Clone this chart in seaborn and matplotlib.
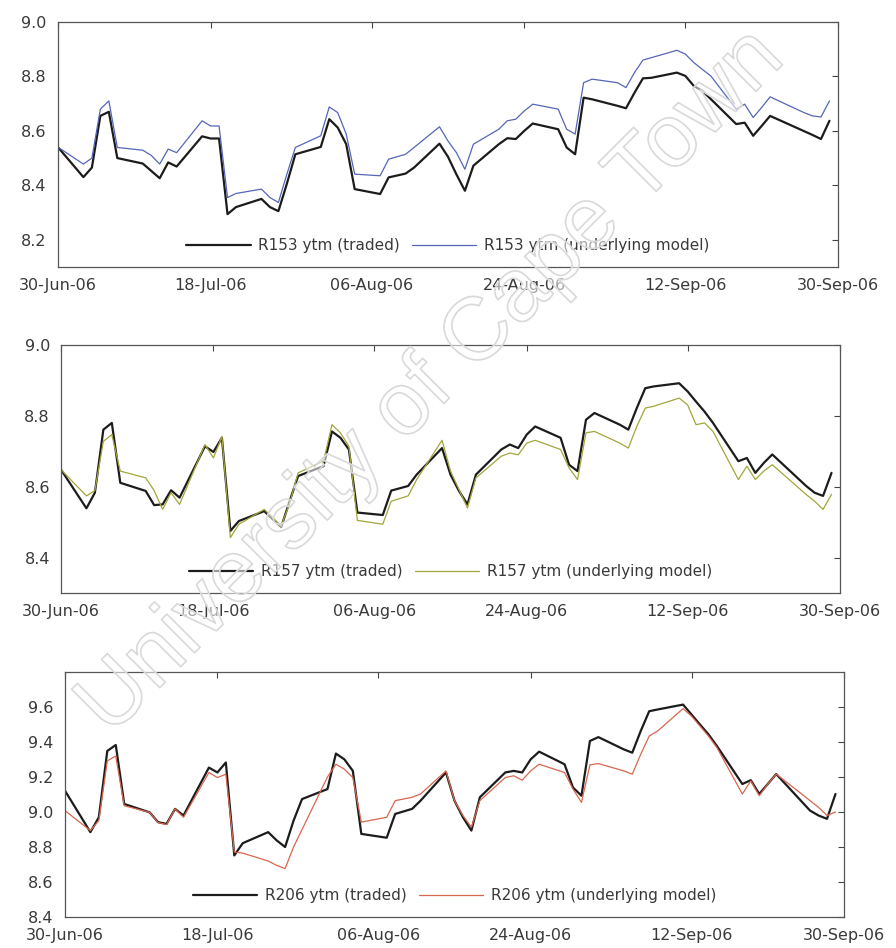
import matplotlib
matplotlib.use("Agg")
import matplotlib.pyplot as plt
import matplotlib.dates as mdates
from matplotlib import patheffects
import pandas as pd
import seaborn as sns

# Trading days (SA holidays 9 Aug and 25 Sep excluded)
trade_dates = [
    "2006-06-30",
    "2006-07-03", "2006-07-04", "2006-07-05", "2006-07-06", "2006-07-07",
    "2006-07-10", "2006-07-11", "2006-07-12", "2006-07-13", "2006-07-14",
    "2006-07-17", "2006-07-18", "2006-07-19", "2006-07-20", "2006-07-21",
    "2006-07-24", "2006-07-25", "2006-07-26", "2006-07-27", "2006-07-28",
    "2006-07-31", "2006-08-01", "2006-08-02", "2006-08-03", "2006-08-04",
    "2006-08-07", "2006-08-08", "2006-08-10", "2006-08-11",
    "2006-08-14", "2006-08-15", "2006-08-16", "2006-08-17", "2006-08-18",
    "2006-08-21", "2006-08-22", "2006-08-23", "2006-08-24", "2006-08-25",
    "2006-08-28", "2006-08-29", "2006-08-30", "2006-08-31", "2006-09-01",
    "2006-09-04", "2006-09-05", "2006-09-06", "2006-09-07", "2006-09-08",
    "2006-09-11", "2006-09-12", "2006-09-13", "2006-09-14", "2006-09-15",
    "2006-09-18", "2006-09-19", "2006-09-20", "2006-09-21", "2006-09-22",
    "2006-09-26", "2006-09-27", "2006-09-28", "2006-09-29",
]

r153_traded = [
    8.540, 8.430, 8.465, 8.655, 8.670, 8.500, 8.480, 8.453, 8.426, 8.484,
    8.469, 8.580, 8.572, 8.572, 8.294, 8.320, 8.350, 8.320, 8.305, 8.406,
    8.514, 8.541, 8.643, 8.612, 8.551, 8.386, 8.368, 8.429, 8.443, 8.465,
    8.553, 8.505, 8.440, 8.380, 8.472, 8.551, 8.573, 8.570, 8.600, 8.627,
    8.606, 8.539, 8.514, 8.722, 8.716, 8.692, 8.683, 8.740, 8.793, 8.795,
    8.814, 8.802, 8.765, 8.747, 8.717, 8.625, 8.630, 8.582, 8.618, 8.655,
    8.599, 8.585, 8.570, 8.637,
]
r153_model = [
    8.540, 8.478, 8.500, 8.680, 8.710, 8.539, 8.529, 8.510, 8.478, 8.533,
    8.520, 8.637, 8.618, 8.618, 8.355, 8.370, 8.386, 8.355, 8.337, 8.441,
    8.539, 8.582, 8.688, 8.667, 8.588, 8.441, 8.435, 8.496, 8.514, 8.539,
    8.615, 8.563, 8.520, 8.459, 8.551, 8.606, 8.637, 8.643, 8.673, 8.698,
    8.680, 8.606, 8.588, 8.777, 8.790, 8.777, 8.759, 8.814, 8.860, 8.869,
    8.896, 8.882, 8.851, 8.826, 8.802, 8.680, 8.698, 8.649, 8.686, 8.725,
    8.667, 8.655, 8.651, 8.710,
]

r157_traded = [
    8.648, 8.539, 8.583, 8.761, 8.780, 8.611, 8.588, 8.548, 8.550, 8.590,
    8.569, 8.714, 8.698, 8.738, 8.475, 8.503, 8.531, 8.508, 8.486, 8.559,
    8.630, 8.658, 8.756, 8.738, 8.705, 8.527, 8.520, 8.589, 8.602, 8.634,
    8.709, 8.634, 8.588, 8.550, 8.634, 8.705, 8.719, 8.709, 8.747, 8.770,
    8.738, 8.662, 8.644, 8.789, 8.808, 8.775, 8.761, 8.822, 8.878, 8.883,
    8.892, 8.869, 8.840, 8.812, 8.780, 8.672, 8.681, 8.639, 8.667, 8.691,
    8.602, 8.583, 8.574, 8.639,
]
r157_model = [
    8.648, 8.574, 8.589, 8.728, 8.747, 8.644, 8.625, 8.589, 8.536, 8.583,
    8.550, 8.719, 8.681, 8.742, 8.456, 8.494, 8.536, 8.513, 8.489, 8.553,
    8.639, 8.672, 8.775, 8.752, 8.714, 8.505, 8.494, 8.559, 8.574, 8.620,
    8.731, 8.644, 8.592, 8.540, 8.625, 8.686, 8.695, 8.690, 8.723, 8.731,
    8.705, 8.653, 8.620, 8.752, 8.756, 8.723, 8.709, 8.770, 8.822, 8.827,
    8.850, 8.831, 8.775, 8.780, 8.756, 8.620, 8.658, 8.620, 8.644, 8.662,
    8.578, 8.559, 8.536, 8.578,
]

r206_traded = [
    9.122, 8.885, 8.970, 9.349, 9.383, 9.046, 8.998, 8.942, 8.932, 9.018,
    8.980, 9.254, 9.226, 9.283, 8.752, 8.822, 8.885, 8.838, 8.800, 8.951,
    9.074, 9.131, 9.334, 9.301, 9.235, 8.875, 8.853, 8.989, 9.018, 9.065,
    9.226, 9.065, 8.970, 8.894, 9.084, 9.226, 9.235, 9.226, 9.301, 9.345,
    9.273, 9.140, 9.093, 9.406, 9.428, 9.358, 9.339, 9.463, 9.576, 9.586,
    9.614, 9.557, 9.500, 9.444, 9.377, 9.160, 9.182, 9.103, 9.160, 9.217,
    9.008, 8.980, 8.961, 9.103,
]
r206_model = [
    9.008, 8.894, 8.951, 9.292, 9.320, 9.036, 8.998, 8.940, 8.928, 9.018,
    8.970, 9.226, 9.197, 9.216, 8.771, 8.765, 8.720, 8.695, 8.677, 8.800,
    8.900, 9.200, 9.273, 9.245, 9.197, 8.942, 8.970, 9.065, 9.084, 9.103,
    9.235, 9.065, 8.980, 8.913, 9.065, 9.197, 9.207, 9.182, 9.235, 9.273,
    9.226, 9.131, 9.055, 9.269, 9.277, 9.235, 9.216, 9.330, 9.434, 9.463,
    9.591, 9.548, 9.491, 9.434, 9.368, 9.103, 9.178, 9.093, 9.160, 9.217,
    9.065, 9.027, 8.980, 9.000,
]

bonds = ["R153", "R157", "R206"]
x_tick_dates = ["2006-06-30", "2006-07-18", "2006-08-06",
                "2006-08-24", "2006-09-12", "2006-09-30"]
y_ticks = [
    [8.2, 8.4, 8.6, 8.8, 9.0],
    [8.4, 8.6, 8.8, 9.0],
    [8.4, 8.6, 8.8, 9.0, 9.2, 9.4, 9.6],
]

sns.set_style("white")
plt.rcParams["font.family"] = ["DejaVu Sans"]

dates = pd.to_datetime(trade_dates)
traded = [r153_traded, r157_traded, r206_traded]
model = [r153_model, r157_model, r206_model]
model_colors = ["#5566b8", "#a3a63a", "#d9664f"]
y_limits = [(8.1, 9.0), (8.3, 9.0), (8.4, 9.8)]
# axes rectangles in figure fraction: left, bottom, width, height
rects = [
    (0.0647, 0.7184, 0.8705, 0.2584),
    (0.0681, 0.3745, 0.8694, 0.2616),
    (0.0725, 0.0327, 0.8694, 0.2584),
]

fig = plt.figure(figsize=(8.96, 9.48), dpi=100)
text_color = "#3a3a3a"

for i, bond in enumerate(bonds):
    ax = fig.add_axes(rects[i])
    sns.lineplot(x=dates, y=traded[i], ax=ax, color="#1c1c1c", linewidth=1.6,
                 label=f"{bond} ytm (traded)")
    sns.lineplot(x=dates, y=model[i], ax=ax, color=model_colors[i], linewidth=0.9,
                 label=f"{bond} ytm (underlying model)")
    ax.set_xlim(pd.Timestamp("2006-06-30"), pd.Timestamp("2006-09-30"))
    ax.set_ylim(*y_limits[i])
    ax.set_xticks(pd.to_datetime(x_tick_dates))
    ax.xaxis.set_major_formatter(mdates.DateFormatter("%d-%b-%y"))
    ax.set_yticks(y_ticks[i])
    ax.yaxis.set_major_formatter(plt.FormatStrFormatter("%.1f"))
    ax.set_xlabel("")
    ax.set_ylabel("")
    ax.tick_params(direction="in", length=4, width=0.8, colors="#444444",
                   labelcolor=text_color, labelsize=11.5,
                   top=True, right=True)
    ax.tick_params(axis="x", pad=8)
    ax.tick_params(axis="y", pad=8)
    for sp in ax.spines.values():
        sp.set_visible(True)
        sp.set_color("#555555")
        sp.set_linewidth(0.9)
    leg = ax.legend(loc="lower center", bbox_to_anchor=(0.5, 0.0), ncol=2,
                    frameon=False, handlelength=4.2, columnspacing=0.8,
                    handletextpad=0.5, fontsize=11)
    for t in leg.get_texts():
        t.set_color(text_color)

# repository watermark
fig.text(0.482, 0.596, "University of Cape Town", fontsize=64,
         family="Liberation Sans", rotation=45, ha="center", va="center",
         color=(1, 1, 1, 0.55),
         path_effects=[patheffects.Stroke(linewidth=1.2, foreground="#d9d9d9")],
         zorder=10)

fig.savefig("out.png", dpi=100)
